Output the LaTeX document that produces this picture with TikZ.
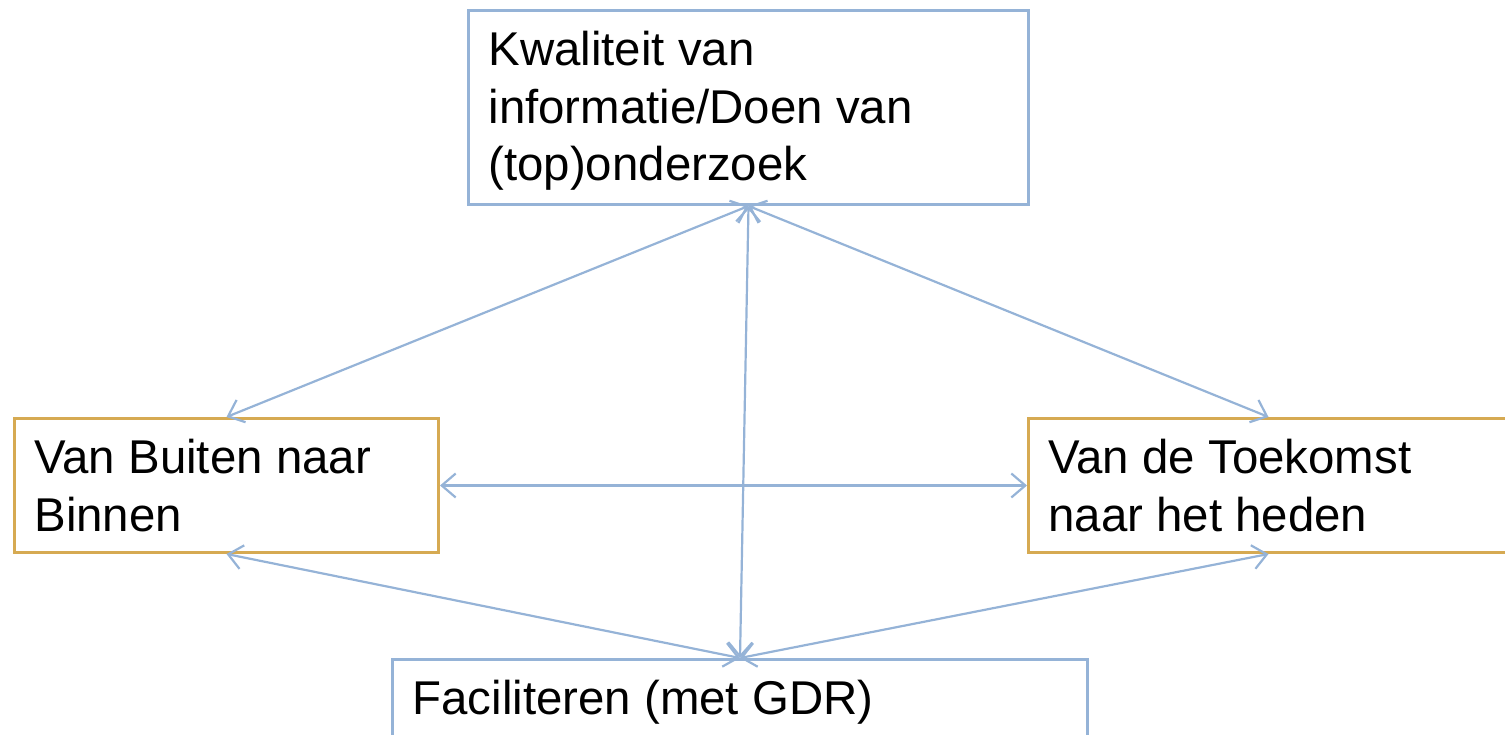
\documentclass[tikz,border=0pt]{standalone}
\usepackage{fontspec}
\setmainfont{Liberation Sans}
\usetikzlibrary{arrows.meta}
\definecolor{boxblue}{RGB}{149,179,215}
\definecolor{boxgold}{RGB}{214,170,82}
\newcommand{\boxtext}[3]{\parbox[c][#2][t]{#1}{\raggedright #3}}
\begin{document}
\begin{tikzpicture}[x=0.5pt,y=0.5pt,
  font=\fontsize{23.7}{28.75}\selectfont,
  bluebox/.style={draw=boxblue,line width=1.5pt,inner xsep=10pt,inner ysep=10.5pt,anchor=north west},
  goldbox/.style={bluebox,draw=boxgold},
  link/.style={draw=boxblue,line width=1.1pt,{Straight Barb[length=7pt,width=12pt]}-{Straight Barb[length=7pt,width=12pt]}}]
\useasboundingbox (0,0) rectangle (1505,734);

\node[bluebox] (kwal) at (467,725) {\boxtext{260pt}{76pt}{Kwaliteit van\\informatie/Doen van\\(top)onderzoek}};
\node[goldbox] (buiten) at (13,317) {\boxtext{192pt}{46pt}{Van Buiten naar\\Binnen}};
\node[goldbox] (toekomst) at (1027,317) {\boxtext{220pt}{46pt}{Van de Toekomst\\naar het heden}};
\node[bluebox] (facil) at (391,76) {\boxtext{327.5pt}{46pt}{Faciliteren (met GDR)}};

\draw[link] (kwal.south) -- (buiten.north);
\draw[link] (kwal.south) -- (toekomst.north);
\draw[link] (kwal.south) -- (facil.north);
\draw[link] (buiten.east) -- (toekomst.west);
\draw[link] (buiten.south) -- (facil.north);
\draw[link] (toekomst.south) -- (facil.north);
\end{tikzpicture}
\end{document}
